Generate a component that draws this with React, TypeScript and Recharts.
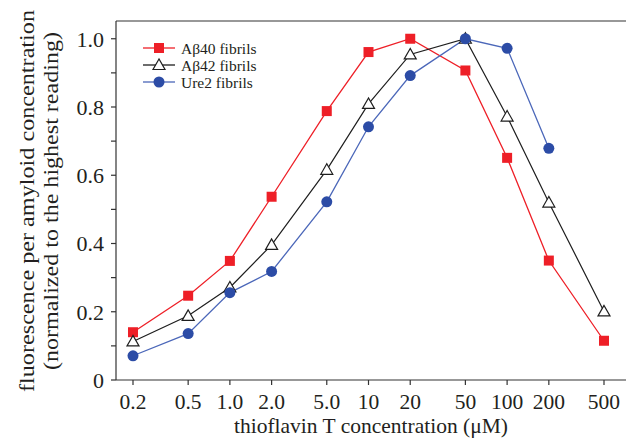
import React from 'react';
import { LineChart, Line, XAxis, YAxis, Legend, ReferenceLine } from 'recharts';

// thioflavin T concentration (µM), log axis
const concentrations = [0.2, 0.5, 1, 2, 5, 10, 20, 50, 100, 200, 500];
const xTickLabels = ['0.2', '0.5', '1.0', '2.0', '5.0', '10', '20', '50', '100', '200', '500'];

const abeta40 = [0.14, 0.247, 0.349, 0.537, 0.788, 0.961, 1.0, 0.907, 0.651, 0.35, 0.115];
const abeta42 = [0.113, 0.188, 0.271, 0.396, 0.616, 0.809, 0.954, 1.0, 0.772, 0.52, 0.201];
const ure2 = [0.071, 0.136, 0.256, 0.318, 0.522, 0.742, 0.892, 1.0, 0.972, 0.679, null];

const yTicks = [0, 0.1, 0.2, 0.3, 0.4, 0.5, 0.6, 0.7, 0.8, 0.9, 1.0];

const RED = '#ee1f27';
const BLUE_LINE = '#4b67b9';
const BLUE_DOT = '#2c4ca6';
const BLACK = '#1e1e1e';
const AXIS = '#333333';
const TEXT = '#231f20';
const FONT = '"Liberation Serif", "DejaVu Serif", serif';

const data = concentrations.map((x, i) => ({
  x,
  ab40: abeta40[i],
  ab42: abeta42[i],
  ure2: ure2[i],
}));

const SquareDot = (props: any) => {
  const { cx, cy, index } = props;
  if (cx == null || cy == null) return <g key={`sq-${index}`} />;
  return <rect key={`sq-${index}`} x={cx - 5} y={cy - 5} width={10} height={10} fill={RED} />;
};

const TriangleDot = (props: any) => {
  const { cx, cy, index } = props;
  if (cx == null || cy == null) return <g key={`tr-${index}`} />;
  return (
    <polygon
      key={`tr-${index}`}
      points={`${cx},${cy - 6} ${cx - 6},${cy + 4.5} ${cx + 6},${cy + 4.5}`}
      fill="#fff"
      stroke={BLACK}
      strokeWidth={1.2}
    />
  );
};

const CircleDot = (props: any) => {
  const { cx, cy, index } = props;
  if (cx == null || cy == null) return <g key={`ci-${index}`} />;
  return <circle key={`ci-${index}`} cx={cx} cy={cy} r={5.5} fill={BLUE_DOT} />;
};

const legendItems = [
  { name: 'Aβ40 fibrils', color: RED, marker: 'square' },
  { name: 'Aβ42 fibrils', color: BLACK, marker: 'triangle' },
  { name: 'Ure2 fibrils', color: BLUE_LINE, marker: 'circle' },
];

const renderLegend = () => (
  <svg width={150} height={56}>
    {legendItems.map((item, i) => {
      const y = 10 + i * 17;
      return (
        <g key={item.name}>
          <line x1={3} x2={35} y1={y} y2={y} stroke={item.color} strokeWidth={1.3} />
          {item.marker === 'square' && <rect x={14} y={y - 5} width={10} height={10} fill={RED} />}
          {item.marker === 'triangle' && (
            <polygon points={`19,${y - 6} 13,${y + 4.5} 25,${y + 4.5}`} fill="#fff" stroke={BLACK} strokeWidth={1.2} />
          )}
          {item.marker === 'circle' && <circle cx={19} cy={y} r={5.5} fill={BLUE_DOT} />}
          <text x={41} y={y} dominantBaseline="central" fontSize={15.5} fill={TEXT} fontFamily={FONT}>
            {item.name}
          </text>
        </g>
      );
    })}
  </svg>
);

const renderYLabel = () => (
  <g fontFamily={FONT} fontSize={22} fill={TEXT}>
    <text
      x={26}
      y={201}
      transform="rotate(-90, 26, 201)"
      textAnchor="middle"
      dominantBaseline="central"
      textLength={382}
      lengthAdjust="spacingAndGlyphs"
    >
      fluorescence per amyloid concentration
    </text>
    <text
      x={50}
      y={201}
      transform="rotate(-90, 50, 201)"
      textAnchor="middle"
      dominantBaseline="central"
      textLength={338}
      lengthAdjust="spacingAndGlyphs"
    >
      (normalized to the highest reading)
    </text>
  </g>
);

const renderXLabel = () => (
  <text x={371} y={433} textAnchor="middle" fontFamily={FONT} fontSize={21.5} fill={TEXT}>
    thioflavin T concentration (μM)
  </text>
);

export default function App() {
  return (
    <div style={{ position: 'absolute', left: 0, top: 0, width: 626, height: 438, background: '#fff' }}>
      <LineChart width={626} height={438} data={data} margin={{ top: 21, right: 0, bottom: 0, left: 0 }}>
        <XAxis
          dataKey="x"
          type="number"
          scale="log"
          domain={[0.1508, 720.6]}
          allowDataOverflow
          ticks={concentrations}
          tickFormatter={(v: number) => xTickLabels[concentrations.indexOf(v)] ?? ''}
          height={58}
          stroke={AXIS}
          strokeWidth={1.2}
          tickSize={5}
          tickMargin={9}
          tick={{ fill: TEXT, fontSize: 21.5, fontFamily: FONT }}
          label={{ content: renderXLabel }}
        />
        <YAxis
          type="number"
          domain={[0, 1.052]}
          ticks={yTicks}
          interval={0}
          tickFormatter={(v: number, i: number) => (i % 2 === 0 ? (v === 0 ? '0' : v.toFixed(1)) : '')}
          width={116}
          stroke={AXIS}
          strokeWidth={1.2}
          tickSize={5}
          tickMargin={7}
          tick={{ fill: TEXT, fontSize: 22, fontFamily: FONT }}
          label={{ content: renderYLabel }}
        />
        <ReferenceLine y={1.052} stroke={AXIS} strokeWidth={1.2} />
        <Legend
          layout="vertical"
          align="center"
          verticalAlign="middle"
          content={renderLegend}
          wrapperStyle={{ position: 'absolute', left: 140, top: 38, width: 150 }}
        />
        <Line dataKey="ab40" stroke={RED} strokeWidth={1.3} dot={SquareDot} isAnimationActive={false} />
        <Line dataKey="ab42" stroke={BLACK} strokeWidth={1.2} dot={TriangleDot} isAnimationActive={false} />
        <Line dataKey="ure2" stroke={BLUE_LINE} strokeWidth={1.3} dot={CircleDot} isAnimationActive={false} />
      </LineChart>
    </div>
  );
}
